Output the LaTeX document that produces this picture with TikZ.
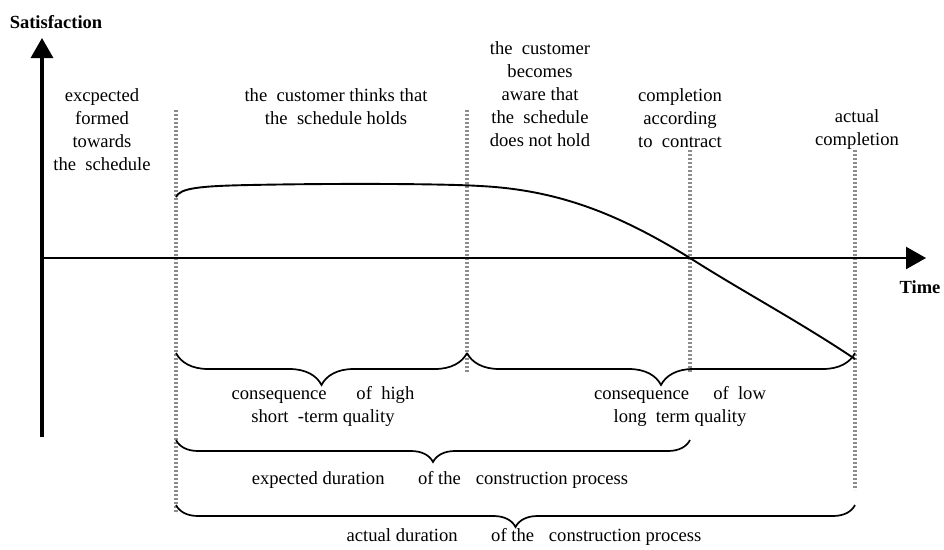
\documentclass[tikz,border=0pt]{standalone}
\usepackage{fontspec}
\setmainfont{Liberation Serif}
\usetikzlibrary{arrows.meta,decorations.pathreplacing}

\tikzset{
  lbl/.style={align=center, font=\fontsize{18.6}{23}\selectfont, inner sep=0pt},
  axlbl/.style={font=\fontsize{18.5}{20}\selectfont\bfseries, inner sep=0pt},
  axisline/.style={line width=#1, -{Triangle[length=20pt,width=22pt]}},
  milestone/.style={draw=black!45, line width=3.2pt, dash pattern=on 2.4pt off 1.6pt},
  curly/.style={decorate, decoration={brace, mirror, amplitude=#1}, line width=1.7pt},
}

\begin{document}
\begin{tikzpicture}[x=1pt, y=-1pt]
  \useasboundingbox (0,0) rectangle (944,549);

  % milestones
  \coordinate (m1t) at (176,110); \coordinate (m1b) at (176,512);
  \coordinate (m2t) at (467,110); \coordinate (m2b) at (467,372);
  \coordinate (m3t) at (690,150); \coordinate (m3b) at (690,372);
  \coordinate (m4t) at (855,150); \coordinate (m4b) at (855,490);
  \draw[milestone] (m1t) -- (m1b);
  \draw[milestone] (m2t) -- (m2b);
  \draw[milestone] (m3t) -- (m3b);
  \draw[milestone] (m4t) -- (m4b);

  % axes
  \coordinate (origin) at (42,258);
  \coordinate (ytop) at (42,38);
  \coordinate (ybot) at (42,437);
  \coordinate (xend) at (926,258);
  \draw[axisline=3.4pt] (ybot) -- (ytop);
  \draw[axisline=2.4pt] (origin) -- (xend);
  \node[axlbl] (satis) at (56,22) {Satisfaction};
  \node[axlbl] (time) at (920,287) {Time};

  % satisfaction curve
  \draw[line width=1.9pt] (176,197) .. controls (180,188) and (200,186) .. (250,185)
    .. controls (350,183) and (450,184) .. (480,186)
    .. controls (560,190) and (620,215) .. (690,258)
    .. controls (740,290) and (800,322) .. (855,359);

  % events
  \node[lbl] (formed) at (102,130) {excpected\\formed\\towards\\the\ \ schedule};
  \node[lbl] (holds) at (336,106.5) {the\ \ customer thinks that\\the\ \ schedule holds};
  \node[lbl] (aware) at (540,94) {the\ \ customer\\becomes\\aware that\\the\ \ schedule\\does not hold};
  \node[lbl] (contract) at (680,118) {completion\\according\\to\ \ contract};
  \node[lbl] (actual) at (857,129.5) {actual\\completion};

  % braces
  \coordinate (b1l) at (176,353); \coordinate (b1r) at (467,353);
  \coordinate (b2l) at (467,353); \coordinate (b2r) at (855,353);
  \coordinate (b3l) at (176,440); \coordinate (b3r) at (690,440);
  \coordinate (b4l) at (176,505); \coordinate (b4r) at (855,505);
  \draw[curly=32pt] (b1l) -- (b1r);
  \draw[curly=32pt] (b2l) -- (b2r);
  \draw[curly=22pt] (b3l) -- (b3r);
  \draw[curly=22pt] (b4l) -- (b4r);

  \node[lbl] (high) at (323,406.5) {consequence\hspace{1.6em}of\ \ high\\short\ \ -term quality};
  \node[lbl] (low) at (680,406.5) {consequence\hspace{1.3em}of\ \ low\\long\ \ term quality};
  \node[lbl] (expdur) at (440,480) {expected duration\hspace{1.8em}of the\hspace{0.8em}construction process};
  \node[lbl] (actdur) at (524,537) {actual duration\hspace{1.8em}of the\hspace{0.8em}construction process};
\end{tikzpicture}
\end{document}
